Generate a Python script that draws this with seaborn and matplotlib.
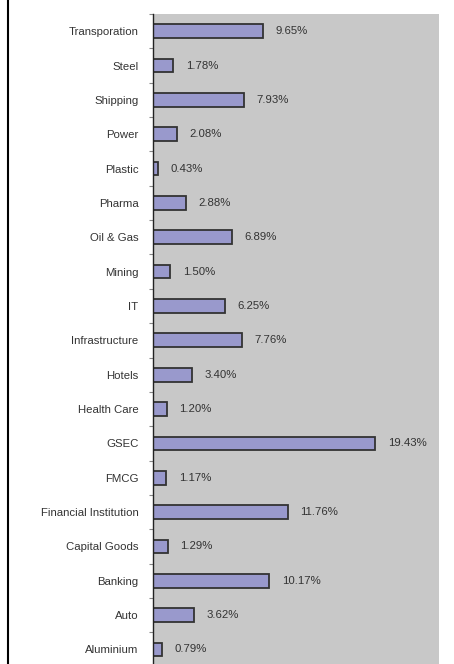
import matplotlib
matplotlib.use("Agg")
import matplotlib.pyplot as plt
import seaborn as sns
import pandas as pd
import numpy as np
from matplotlib.lines import Line2D

sectors = ["Transporation", "Steel", "Shipping", "Power", "Plastic", "Pharma",
           "Oil & Gas", "Mining", "IT", "Infrastructure", "Hotels", "Health Care",
           "GSEC", "FMCG", "Financial Institution", "Capital Goods", "Banking",
           "Auto", "Aluminium"]
values = [9.65, 1.78, 7.93, 2.08, 0.43, 2.88, 6.89, 1.50, 6.25, 7.76, 3.40, 1.20,
          19.43, 1.17, 11.76, 1.29, 10.17, 3.62, 0.79]

df = pd.DataFrame({"sector": sectors, "value": values})

sns.set_theme(style="white")
plt.rcParams['font.family'] = ['Liberation Sans', 'DejaVu Sans']

fig = plt.figure(figsize=(4.54, 6.64), dpi=100)
ax = fig.add_axes([153/454, -0.004, (439-153)/454, 1 - 14/664 + 0.004])
ax.set_facecolor("#C8C8C8")

sns.barplot(data=df, x="value", y="sector", order=sectors, orient="h",
            color="#9999CC", saturation=1, width=0.4,
            edgecolor="#333333", linewidth=1.3, ax=ax)

for p, v in zip(ax.patches, values):
    y = p.get_y() + p.get_height() / 2
    ax.annotate(f"{v:.2f}%", xy=(p.get_width(), y), xytext=(9, 0),
                textcoords="offset points", va="center", ha="left",
                fontsize=8.2, color="#333333")

ax.set_xlim(0, 25)
ax.set_ylim(len(sectors) - 0.5, -0.5)
ax.set_xlabel("")
ax.set_ylabel("")
ax.set_xticks([])
ax.tick_params(axis="y", which="major", length=0, pad=10.5, labelsize=8.2,
               labelcolor="#333333")
ax.set_yticks(np.arange(-0.5, len(sectors), 1), minor=True)
ax.tick_params(axis="y", which="minor", length=3, width=0.8, color="#888888",
               left=True)
for s in ["top", "right", "bottom"]:
    ax.spines[s].set_visible(False)
ax.spines["left"].set_color("#222222")
ax.spines["left"].set_linewidth(1.0)

fig.add_artist(Line2D([8/454, 8/454], [0, 1], transform=fig.transFigure,
                      color="black", linewidth=1.5))

fig.savefig("out.png", dpi=100, facecolor="white")
